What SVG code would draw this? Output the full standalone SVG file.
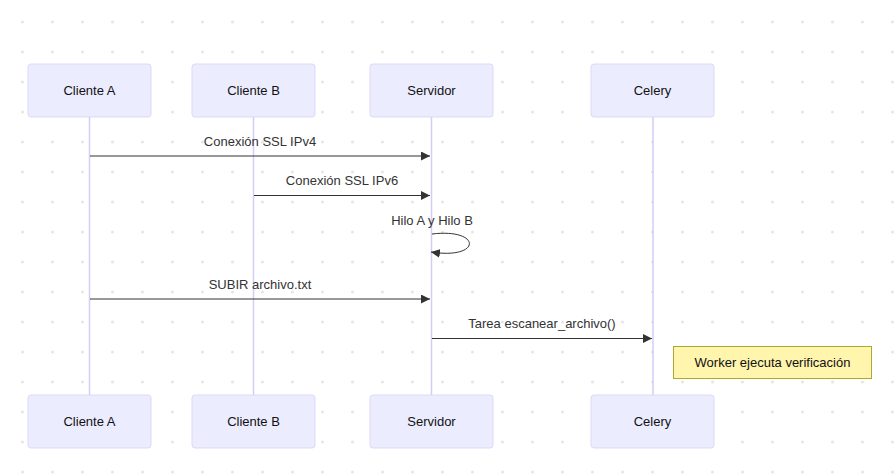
<svg xmlns="http://www.w3.org/2000/svg" width="896" height="476" viewBox="0 0 896 476">
<defs>
<pattern id="dots" x="0" y="0" width="30" height="30" patternUnits="userSpaceOnUse">
<circle cx="22.5" cy="22" r="1.6" fill="#e6e6e6"/>
</pattern>
<marker id="arr" viewBox="0 0 10 10" refX="10" refY="5" markerWidth="9" markerHeight="9" markerUnits="userSpaceOnUse" orient="auto">
<path d="M0,0 L10,5 L0,10 z" fill="#333"/>
</marker>
</defs>
<style>
.actor rect{fill:#ececff;stroke:#ddd8f6;stroke-width:1}
.actor text{font-family:"Liberation Sans",Arial,sans-serif;font-size:13px;fill:#111;text-anchor:middle;dominant-baseline:central}
.life{stroke:#d4cdf5;stroke-width:1.5}
.msg{stroke:#333;stroke-width:1;fill:none}
.lbl{font-family:"Liberation Sans",Arial,sans-serif;font-size:13px;fill:#333;text-anchor:middle;dominant-baseline:central}
.note rect{fill:#fff5ad;stroke:#aaaa33;stroke-width:1}
.note text{font-family:"Liberation Sans",Arial,sans-serif;font-size:13px;fill:#111;text-anchor:middle;dominant-baseline:central}
</style>
<rect width="896" height="476" fill="#fff"/>
<rect width="896" height="476" fill="url(#dots)"/>
<g id="lifelines">
<line class="life" x1="89.5" y1="117" x2="89.5" y2="395"/>
<line class="life" x1="253.5" y1="117" x2="253.5" y2="395"/>
<line class="life" x1="431.5" y1="117" x2="431.5" y2="395"/>
<line class="life" x1="653" y1="117" x2="653" y2="395"/>
</g>
<g id="clienteA_top" class="actor"><rect x="28" y="64" width="123" height="53" rx="3"/><text x="89.5" y="90.5">Cliente A</text></g>
<g id="clienteB_top" class="actor"><rect x="192" y="64" width="123" height="53" rx="3"/><text x="253.5" y="90.5">Cliente B</text></g>
<g id="servidor_top" class="actor"><rect x="370" y="64" width="123" height="53" rx="3"/><text x="431.5" y="90.5">Servidor</text></g>
<g id="celery_top" class="actor"><rect x="591" y="64" width="123" height="53" rx="3"/><text x="652.5" y="90.5">Celery</text></g>
<g id="clienteA_bottom" class="actor"><rect x="28" y="395" width="123" height="53" rx="3"/><text x="89.5" y="421.5">Cliente A</text></g>
<g id="clienteB_bottom" class="actor"><rect x="192" y="395" width="123" height="53" rx="3"/><text x="253.5" y="421.5">Cliente B</text></g>
<g id="servidor_bottom" class="actor"><rect x="370" y="395" width="123" height="53" rx="3"/><text x="431.5" y="421.5">Servidor</text></g>
<g id="celery_bottom" class="actor"><rect x="591" y="395" width="123" height="53" rx="3"/><text x="652.5" y="421.5">Celery</text></g>
<g id="connectors">
<line class="msg" x1="90" y1="156" x2="430" y2="156" marker-end="url(#arr)"/>
<text class="lbl" x="260" y="141">Conexión SSL IPv4</text>
<line class="msg" x1="254" y1="195.5" x2="430" y2="195.5" marker-end="url(#arr)"/>
<text class="lbl" x="342" y="180">Conexión SSL IPv6</text>
<path class="msg" d="M432,234 C482,228 482,260 431,252" marker-end="url(#arr)"/>
<text class="lbl" x="432" y="220">Hilo A y Hilo B</text>
<line class="msg" x1="90" y1="299" x2="430" y2="299" marker-end="url(#arr)"/>
<text class="lbl" x="260" y="284">SUBIR archivo.txt</text>
<line class="msg" x1="432" y1="338.5" x2="652" y2="338.5" marker-end="url(#arr)"/>
<text class="lbl" x="542" y="323">Tarea escanear_archivo()</text>
</g>
<g id="note" class="note"><rect x="673.5" y="346.5" width="198" height="32"/><text x="772.5" y="362.5">Worker ejecuta verificación</text></g>
</svg>
